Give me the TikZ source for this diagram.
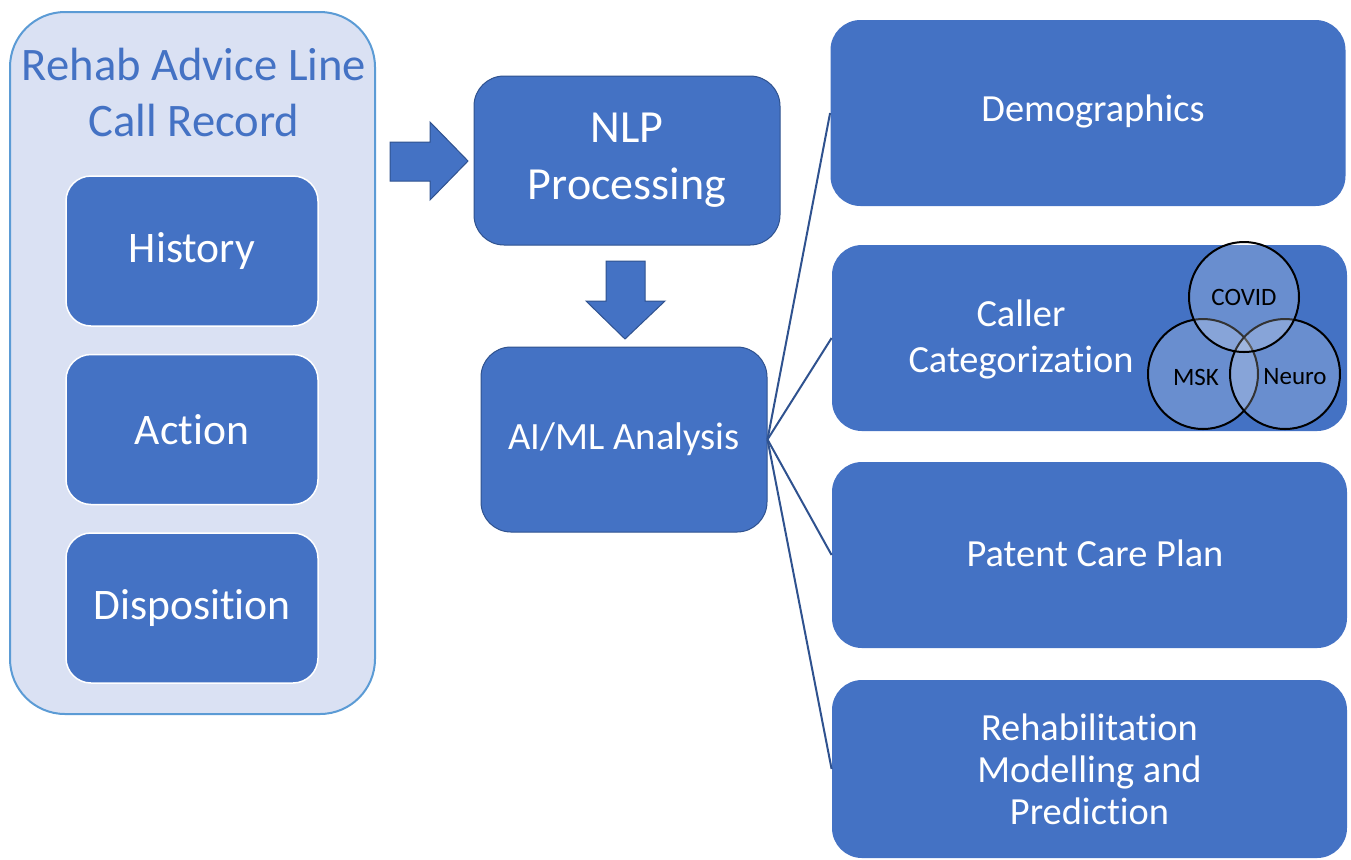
\documentclass[tikz,border=0pt]{standalone}
\usepackage{fontspec}
\setmainfont{Carlito}[RawFeature={-liga}]
\usetikzlibrary{positioning}
\definecolor{accblue}{HTML}{4472C4}
\definecolor{darkblue}{HTML}{2F528F}
\definecolor{paleblue}{HTML}{DAE1F3}
\definecolor{edgeblue}{HTML}{5B9BD5}
\tikzset{%
	record/.style   = {draw=edgeblue, line width=1pt, fill=paleblue, rounded corners=27.5pt, minimum width=182.5pt, minimum height=351pt},
	field/.style    = {draw=white, line width=0.75pt, fill=accblue, rounded corners=12.5pt, minimum width=126pt, minimum height=75pt, text=white, font=\fontsize{21.8pt}{26pt}\selectfont},
	stage/.style    = {draw=darkblue, line width=0.5pt, fill=accblue, rounded corners=15pt, text=white, align=center},
	result/.style   = {fill=accblue, rounded corners=15pt, minimum width=257.5pt, minimum height=93pt, text=white, align=center, font=\fontsize{19.2pt}{21pt}\selectfont},
	venn/.style     = {draw=black, line width=1pt, circle, fill=white, fill opacity=0.2, text opacity=1, minimum size=55pt, inner sep=0pt},
	vennlabel/.style= {font=\fontsize{12.5pt}{15pt}\selectfont}, % Venn text
	bigarrow/.style = {fill=accblue, draw=darkblue, line width=0.5pt}, % block arrows
	link/.style     = {draw=darkblue, line width=1pt},
}

\begin{document}
\begin{tikzpicture}[x=0.5pt,y=-0.5pt,node distance=13.5pt]
	\useasboundingbox (0,0) rectangle (1351,859);
	% call record column
	\node [record] (rec) at (192.5,363) {};
	\node [align=center,text=accblue,font=\fontsize{23.3pt}{28pt}\selectfont] (title) at (194,92) {Rehab Advice Line\\Call Record};
	\node [field] (history) at (192,251) {History};
	\node [field] (action) [below=of history] {Action};
	\node [field] (disp) [below=of action] {Disposition};
	
	% processing
	\node [stage,minimum width=153pt,minimum height=84.5pt,font=\fontsize{23pt}{28.5pt}\selectfont] (nlp) at (627,160.5) {NLP\\Processing};
	\node [stage,minimum width=143pt,minimum height=92.5pt,font=\fontsize{19.3pt}{23pt}\selectfont] (ai) at (624,439.5) {AI/ML Analysis};
	\fill [bigarrow] (390,142) -- (430,142) -- (430,122) -- (468,161) -- (430,200) -- (430,181) -- (390,181) -- cycle;
	\fill [bigarrow] (606,261) -- (645,261) -- (645,301) -- (665,301) -- (625,339) -- (586,301) -- (606,301) -- cycle;
	
	% outcomes
	\node [result] (demo) at (1088,113) {};
	\node [text=white,font=\fontsize{19.2pt}{21pt}\selectfont] (demotxt) at (1093,111) {Demographics};
	\node [result] (caller) at (1089.5,338) {};
	\node [align=center,text=white,font=\fontsize{19.2pt}{23pt}\selectfont] (callertxt) at (1021,339) {Caller\\Categorization};
	\node [result] (care) at (1089.5,555) {};
	\node [text=white,font=\fontsize{19.2pt}{21pt}\selectfont] (caretxt) at (1095,553) {Patent Care Plan};
	\node [result,minimum height=89pt] (rehab) at (1089.5,769) {Rehabilitation\\Modelling and\\Prediction};
	
	% venn
	\node [venn] (msk) at (1203,374) {};
	\node [venn] (neuro) at (1285,374) {};
	\node [venn] (covid) at (1244,297) {};
	\node [vennlabel] (covidtxt) at (covid) {COVID};
	\node [vennlabel] (msktxt) at (1196,377) {MSK};
	\node [vennlabel] (neurotxt) at (1295,377) {Neuro};
	
	\draw [link] (ai.east) -- (demo.west);
	\draw [link] (ai.east) -- (caller.west);
	\draw [link] (ai.east) -- (care.west);
	\draw [link] (ai.east) -- (rehab.west);
\end{tikzpicture}
\end{document}
